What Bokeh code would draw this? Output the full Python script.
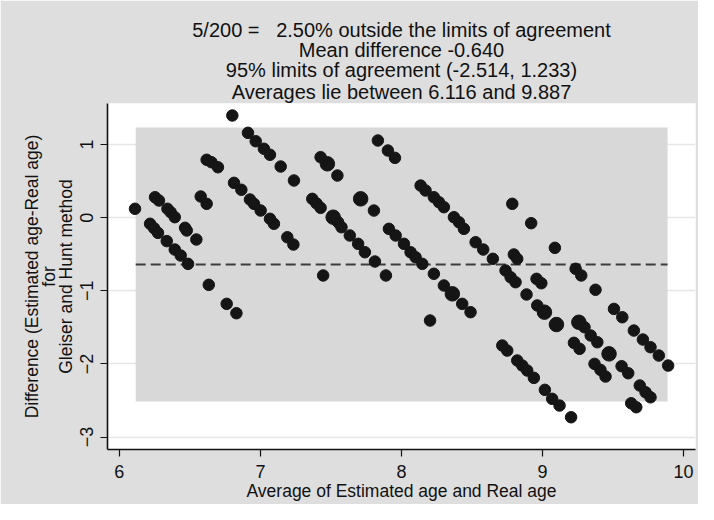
from bokeh.plotting import figure
from bokeh.models import Title, Range1d, FixedTicker
from bokeh.embed import file_html
from bokeh.resources import INLINE

# ---- summary statistics ----
n_outside = 5
n_total = 200
mean_diff = -0.640
loa_lower = -2.514
loa_upper = 1.233
avg_min = 6.116
avg_max = 9.887

x_ticks = [6, 7, 8, 9, 10]
y_ticks = [-3, -2, -1, 0, 1]

# ---- observations (average, difference), single markers ----
avg_single = [
    6.111, 6.253, 6.281, 6.341, 6.364, 6.393, 6.218, 6.246, 6.274, 6.336,
    6.393, 6.435, 6.487, 6.466, 6.478, 6.546, 6.577, 6.619, 6.619, 6.653,
    6.699, 6.634, 6.761, 6.830, 6.801, 6.912, 6.967, 7.025, 7.068, 7.144,
    7.238, 6.813, 6.865, 6.926, 6.955, 7.002, 7.068, 7.096, 7.191, 7.234,
    7.427, 7.546, 7.833, 7.904, 7.954, 7.368, 7.398, 7.427, 7.551, 7.575,
    7.634, 7.693, 7.741, 7.812, 7.805, 7.445, 7.890, 7.911, 7.959, 8.018,
    8.065, 8.100, 8.148, 8.230, 8.301, 8.431, 8.490, 8.203, 8.136, 8.171,
    8.230, 8.266, 8.301, 8.372, 8.408, 8.443, 8.526, 8.580, 8.648, 8.786,
    8.920, 9.088, 8.797, 8.821, 8.738, 8.774, 8.809, 8.887, 8.963, 8.958,
    8.992, 9.235, 9.275, 9.376, 9.298, 9.342, 9.389, 9.223, 9.263, 9.369,
    9.411, 9.447, 9.507, 9.566, 9.648, 9.712, 9.766, 9.825, 9.891, 9.561,
    9.608, 9.690, 9.731, 9.766, 9.629, 9.665, 8.715, 8.750, 8.821, 8.857,
    8.892, 8.939, 9.017, 9.069, 9.121, 9.203,
]
diff_single = [
    0.122, 0.280, 0.235, 0.122, 0.075, 0.007, -0.083, -0.144, -0.207, -0.320,
    -0.435, -0.517, -0.631, -0.138, -0.175, -0.298, 0.290, 0.190, 0.792, 0.759,
    0.690, -0.918, -1.178, -1.306, 1.398, 1.161, 1.046, 0.943, 0.861, 0.700,
    0.509, 0.477, 0.382, 0.249, 0.190, 0.098, -0.015, -0.083, -0.267, -0.367,
    0.828, 0.577, 1.056, 0.919, 0.819, 0.258, 0.196, 0.135, -0.062, -0.130,
    -0.243, -0.357, -0.472, -0.599, 0.098, -0.790, -0.790, -0.152, -0.243, -0.357,
    -0.472, -0.540, -0.631, -0.767, -0.927, -1.178, -1.292, -1.406, 0.440, 0.372,
    0.280, 0.212, 0.144, 0.007, -0.062, -0.152, -0.335, -0.435, -0.562, 0.190,
    -0.075, -0.412, -0.503, -0.562, -0.722, -0.814, -0.882, -1.050, -1.200, -0.836,
    -0.896, -0.699, -0.790, -0.986, -1.498, -1.611, -1.703, -1.711, -1.793, -1.999,
    -2.081, -2.172, -1.247, -1.361, -1.543, -1.666, -1.771, -1.885, -2.022, -2.031,
    -2.127, -2.295, -2.387, -2.456, -2.538, -2.592, -1.748, -1.817, -1.953, -2.022,
    -2.090, -2.190, -2.354, -2.477, -2.569, -2.729,
]

# ---- observations drawn with heavier markers (coinciding values) ----
avg_multi = [7.475, 7.516, 7.711, 8.361, 9.014, 9.099, 9.258, 9.472]
diff_multi = [0.737, 0.007, 0.258, -1.041, -1.292, -1.461, -1.430, -1.862]

title_lines = [
    f"{n_outside}/{n_total} =\u00a0\u00a0 {100 * n_outside / n_total:.2f}% outside the limits of agreement",
    f"Mean difference {mean_diff:.3f}",
    f"95% limits of agreement ({loa_lower:.3f}, {loa_upper:.3f})",
    f"Averages lie between {avg_min:.3f} and {avg_max:.3f}",
]

FONT = "Liberation Sans"
BG = "#dedede"

p = figure(width=698, height=504, output_backend="svg", toolbar_location=None,
           x_range=Range1d(5.916, 10.085), y_range=Range1d(-3.17, 1.562),
           min_border_left=107, min_border_right=3, min_border_top=103,
           min_border_bottom=55)
p.title = None
p.background_fill_color = "white"
p.border_fill_color = BG
p.outline_line_color = None

# titles: add nearest-to-plot first; negative standoff tightens line spacing
title_standoffs = [1, -4, -4, -4]
for line, so in zip(reversed(title_lines), title_standoffs):
    p.add_layout(Title(text=line, align="center", text_font=FONT,
                       text_font_size="20px", text_font_style="normal",
                       text_color="#111111", standoff=so, offset=0), "above")

# limits-of-agreement band
p.quad(left=[avg_min], right=[avg_max], bottom=[loa_lower], top=[loa_upper],
       fill_color="#d8d8d8", line_color=None)

# mean difference line
p.line([avg_min, avg_max], [mean_diff, mean_diff], line_color="#3c3c3c",
       line_width=2, line_dash="10 5")

p.scatter(avg_single, diff_single, size=11.5, marker="circle",
          fill_color="#151515", line_color="#151515")
p.scatter(avg_multi, diff_multi, size=14.5, marker="circle",
          fill_color="#151515", line_color="#151515")

# axes
p.xaxis.ticker = FixedTicker(ticks=x_ticks)
p.yaxis.ticker = FixedTicker(ticks=y_ticks)
for ax in (p.xaxis[0], p.yaxis[0]):
    ax.major_tick_in = 0
    ax.major_tick_out = 7
    ax.minor_tick_line_color = None
    ax.axis_line_color = "#111111"
    ax.axis_line_width = 1.6
    ax.major_tick_line_color = "#111111"
    ax.major_tick_line_width = 1.2
    ax.major_label_text_font = FONT
    ax.major_label_text_font_size = "18px"
    ax.major_label_text_color = "#111111"
    ax.axis_label_text_font = FONT
    ax.axis_label_text_font_size = "17.5px"
    ax.axis_label_text_font_style = "normal"
    ax.axis_label_text_color = "#111111"
    ax.axis_label_text_line_height = 0.85

p.xaxis.axis_label = "Average of Estimated age and Real age"
p.xaxis.major_label_standoff = 8
p.xaxis.axis_label_standoff = 0
p.yaxis.axis_label = "Difference (Estimated age-Real age)\nfor\nGleiser and Hunt method"
p.yaxis.major_label_orientation = "vertical"
p.yaxis.major_label_standoff = 7
p.yaxis.axis_label_standoff = 2

p.xgrid.grid_line_color = None
p.ygrid.grid_line_color = "#e6e6e6"
p.ygrid.grid_line_width = 1.5

open("out.html", "w").write(file_html(p, INLINE))
